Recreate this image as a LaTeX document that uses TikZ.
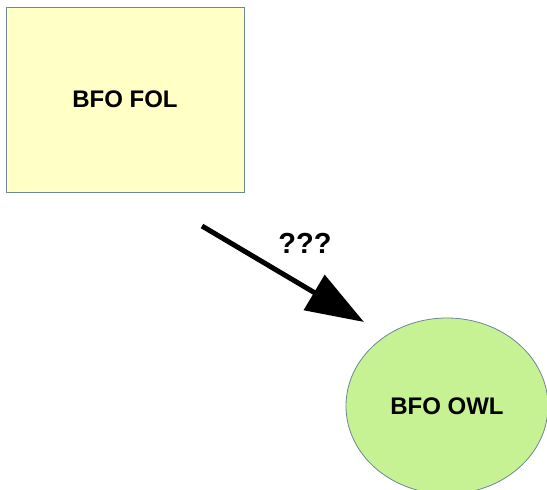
\documentclass[tikz,border=0pt]{standalone}
\usepackage{fontspec}
\setmainfont{Liberation Sans}
\usetikzlibrary{arrows.meta,shapes.geometric}
\definecolor{boxfill}{HTML}{FFFFC6}
\definecolor{boxline}{HTML}{6E8799}
\definecolor{ovalfill}{HTML}{C6F293}
\definecolor{ovalline}{HTML}{6E8799}
\tikzset{
  folbox/.style={draw=boxline, line width=1pt, fill=boxfill,
    minimum width=238pt, minimum height=185pt, inner sep=0pt,
    font=\bfseries\fontsize{24}{28}\selectfont},
  owloval/.style={ellipse, draw=ovalline, line width=0.8pt, fill=ovalfill,
    minimum width=202pt, minimum height=176pt, inner sep=0pt,
    font=\bfseries\fontsize{24}{28}\selectfont},
  bigarrow/.style={line width=5pt, -{Triangle[length=58pt,width=40pt]}}
}
\begin{document}
\begin{tikzpicture}[x=1pt,y=-1pt]
  \useasboundingbox (0,0) rectangle (547,490);
  \clip (0,0) rectangle (547,490);
  \fill[white] (0,0) rectangle (547,490);
  \node[folbox] (fol) at (125,99.5) {BFO FOL};
  \node[owloval] (owl) at (447,406) {BFO OWL};
  \coordinate (tail) at (202,226);
  \coordinate (tip) at (364,322);
  \draw[bigarrow] (tail) -- (tip);
  \node[font=\bfseries\fontsize{29}{32}\selectfont] (q) at (305,243) {???};
\end{tikzpicture}
\end{document}
